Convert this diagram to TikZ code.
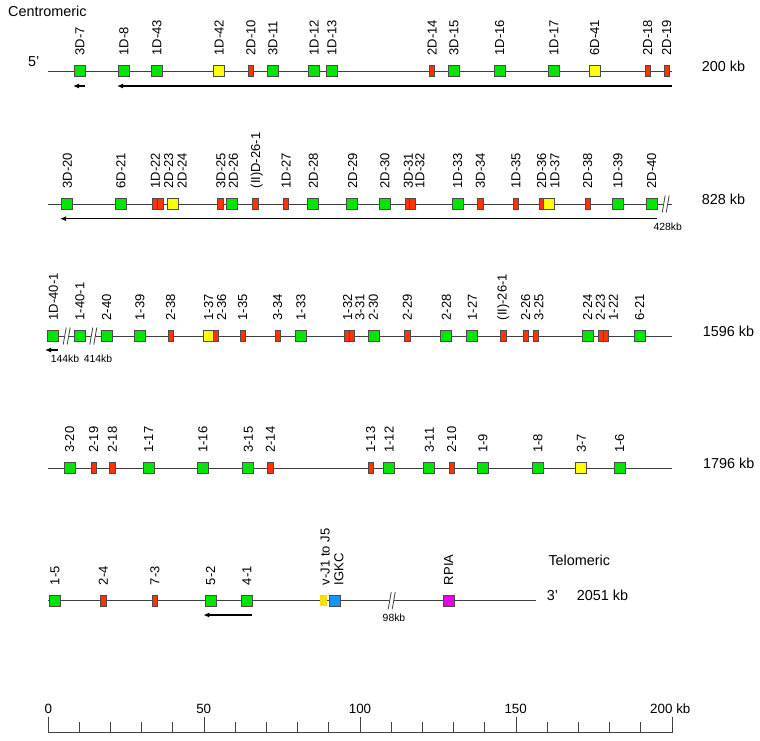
\documentclass[tikz,border=0pt]{standalone}
\usepackage{fontspec}
\setmainfont{Liberation Sans}
\usepackage{xcolor}
\usepackage{tikz}
\usetikzlibrary{arrows.meta}
\definecolor{GeneGreen}{RGB}{0,230,0}
\definecolor{GeneRed}{RGB}{255,51,0}
\definecolor{GeneYellow}{RGB}{255,255,0}
\definecolor{GeneGold}{RGB}{255,220,0}
\definecolor{GeneBlue}{RGB}{20,150,255}
\definecolor{GeneMagenta}{RGB}{230,0,230}

\begin{document}
\begin{tikzpicture}[x=1pt, y=-1pt,
        % Style for the gene boxes
        functional/.style={
            rectangle,
            draw=black!70,
            line width=0.8pt,
            fill=GeneGreen,
            minimum width=11pt,
            minimum height=11pt,
            inner sep=0pt
        },
        pseudo/.style={functional, fill=GeneRed, minimum width=5.5pt},
        orf/.style={functional, fill=GeneYellow},
        jseg/.style={functional, draw=none, fill=GeneGold, minimum width=7.5pt},
        constant/.style={functional, fill=GeneBlue},
        othergene/.style={functional, fill=GeneMagenta},
        % Style for the gene names (upright, reading upwards)
        genelabel/.style={
            rotate=90,
            anchor=west,
            inner sep=0pt,
            font=\fontsize{13}{13}\selectfont
        },
        % Style for the texts at the line ends
        sizelabel/.style={anchor=base west, inner sep=0pt, font=\fontsize{14.4}{16}\selectfont},
        smalllabel/.style={anchor=base, inner sep=0pt, font=\fontsize{10.4}{12}\selectfont},
        axislabel/.style={anchor=base, inner sep=0pt, font=\fontsize{13.4}{15}\selectfont},
        % Style for the lines
        chromline/.style={draw=black!75, line width=0.8pt},
        strand/.style={-{Latex[length=6pt,width=5pt]}, line width=1.3pt},
        axistick/.style={draw=black!75, line width=0.9pt}
    ]

        \useasboundingbox (0,0) rectangle (760,740);

        % --- 1. LINES OF THE LOCUS ---
        \coordinate (r1s) at (48,71);     \coordinate (r1e) at (671.7,71);
        \coordinate (r2s) at (48,204);    \coordinate (r2e) at (671.7,204);
        \coordinate (r3s) at (48,336);    \coordinate (r3e) at (671.7,336);
        \coordinate (r4s) at (48,468.3);  \coordinate (r4e) at (671.7,468.3);
        \coordinate (r5s) at (48,600.7);  \coordinate (r5e) at (536,600.7);
        \draw[chromline] (r1s) -- (r1e);
        \draw[chromline] (r2s) -- (r2e);
        \draw[chromline] (r3s) -- (r3e);
        \draw[chromline] (r4s) -- (r4e);
        \draw[chromline] (r5s) -- (r5e);

        % Breaks in the line
        \foreach \bx/\by in {665.7/204, 66.7/336, 93.3/336, 391.7/600.7} {
            \fill[white] (\bx-3.5,\by+8.5) -- (\bx-0.5,\by-8.5) -- (\bx+3.5,\by-8.5) -- (\bx+0.5,\by+8.5) -- cycle;
            \draw[black!75, line width=0.8pt] (\bx-3.5,\by+8.5) -- (\bx-0.5,\by-8.5);
            \draw[black!75, line width=0.8pt] (\bx+0.5,\by+8.5) -- (\bx+3.5,\by-8.5);
        }

        % --- 2. GENES (position / kind / label position / name) ---
        % Row 1
        \foreach \x/\t/\lx/\n [count=\i] in {
            80/functional/80/3D-7, 124/functional/124/1D-8, 157/functional/157/1D-43,
            219/orf/219/1D-42, 251/pseudo/251/2D-10, 273/functional/273/3D-11,
            314/functional/314/1D-12, 332/functional/332/1D-13, 432/pseudo/432/2D-14,
            454/functional/454/3D-15, 499.7/functional/499.7/1D-16, 554/functional/554/1D-17,
            594.7/orf/594.7/6D-41, 647.7/pseudo/647.7/2D-18, 666.7/pseudo/666.7/2D-19} {
            \node[\t] (r1g\i) at (\x,71) {};
            \node[genelabel] (r1l\i) at (\lx,55.5) {\n};
        }

        % Row 2
        \foreach \x/\t/\lx/\n [count=\i] in {
            67.3/functional/67.3/3D-20, 121/functional/121/6D-21,
            155.2/pseudo/155.3/1D-22, 160.2/pseudo/168.7/2D-23, 173/orf/182/2D-24,
            220.3/pseudo/221/3D-25, 232.3/functional/233.3/2D-26,
            255.3/pseudo/256.7/(II)D-26-1, 286/pseudo/286/1D-27,
            313.3/functional/313.3/2D-28, 352/functional/352.7/2D-29,
            385.3/functional/385/2D-30, 407.7/pseudo/408.3/3D-31, 412.3/pseudo/420/1D-32,
            457.7/functional/457.7/1D-33, 480.3/pseudo/480.3/3D-34, 516/pseudo/516/1D-35,
            541.7/pseudo/541.7/2D-36, 548.8/orf/555/1D-37, 587.7/pseudo/587.7/2D-38,
            618/functional/618/1D-39, 651.7/functional/651.7/2D-40} {
            \node[\t] (r2g\i) at (\x,204) {};
            \node[genelabel] (r2l\i) at (\lx,188.5) {\n};
        }

        % Row 3
        \foreach \x/\t/\lx/\n [count=\i] in {
            53.3/functional/53.3/1D-40-1, 80/functional/80/1-40-1,
            106.7/functional/106.7/2-40, 140/functional/140/1-39, 170.7/pseudo/170.7/2-38,
            208.7/orf/208.7/1-37, 215.8/pseudo/221.7/2-36, 242.7/pseudo/242.7/1-35,
            277.7/pseudo/277.7/3-34, 301/functional/301/1-33,
            347.3/pseudo/347.7/1-32, 352/pseudo/360/3-31, 374/functional/373.3/2-30,
            407.3/pseudo/407.3/2-29, 446.3/functional/446.3/2-28, 472.3/functional/472.3/1-27,
            503.3/pseudo/503.3/(II)-26-1, 525.7/pseudo/525.7/2-26, 535.7/pseudo/539/3-25,
            587.7/functional/587.7/2-24, 600.8/pseudo/600.3/2-23, 605.8/pseudo/613.3/1-22,
            639.7/functional/639.7/6-21} {
            \node[\t] (r3g\i) at (\x,336) {};
            \node[genelabel] (r3l\i) at (\lx,320.5) {\n};
        }

        % Row 4
        \foreach \x/\t/\lx/\n [count=\i] in {
            69.7/functional/69.7/3-20, 93.7/pseudo/93.7/2-19, 112.3/pseudo/112.3/2-18,
            148.7/functional/148.7/1-17, 203/functional/203/1-16, 248.3/functional/248.3/3-15,
            270.3/pseudo/270.3/2-14, 370.7/pseudo/370.7/1-13, 389/functional/389/1-12,
            429.3/functional/429.3/3-11, 451.7/pseudo/451.7/2-10, 483/functional/483/1-9,
            538/functional/538/1-8, 581.3/orf/581.3/3-7, 619.7/functional/619.7/1-6} {
            \node[\t] (r4g\i) at (\x,468.3) {};
            \node[genelabel] (r4l\i) at (\lx,452.8) {\n};
        }

        % Row 5
        \foreach \x/\t/\lx/\n [count=\i] in {
            55/functional/55/1-5, 103.3/pseudo/103.3/2-4, 155/pseudo/155/7-3,
            210.7/functional/210.7/5-2, 247/functional/247/4-1,
            323.7/jseg/325.3/v-J1 to J5, 335.3/constant/339/IGKC,
            448.7/othergene/448.7/RPIA} {
            \node[\t] (r5g\i) at (\x,600.7) {};
            \node[genelabel] (r5l\i) at (\lx,585.2) {\n};
        }

        % --- 3. TRANSCRIPTION ARROWS ---
        \coordinate (a1s) at (85,86);       \coordinate (a1e) at (73,86);
        \coordinate (a2s) at (671.7,86);    \coordinate (a2e) at (117,86);
        \coordinate (a3s) at (656.7,218.7); \coordinate (a3e) at (60,218.7);
        \coordinate (a4s) at (58,350);      \coordinate (a4e) at (45,350);
        \coordinate (a5s) at (251.7,615);   \coordinate (a5e) at (203.3,615);
        \draw[strand] (a1s) -- (a1e);
        \draw[strand] (a2s) -- (a2e);
        \draw[strand] (a3s) -- (a3e);
        \draw[strand] (a4s) -- (a4e);
        \draw[strand] (a5s) -- (a5e);

        % --- 4. TEXTS AT THE ENDS ---
        \node[sizelabel] (cen) at (8,16.5) {Centromeric};
        \node[sizelabel] (five) at (28,66.7) {5'};
        \node[sizelabel] (kb1) at (701.7,71.5) {200 kb};
        \node[sizelabel] (kb2) at (701.7,204.3) {828 kb};
        \node[sizelabel] (kb3) at (702.7,336) {1596 kb};
        \node[sizelabel] (kb4) at (703,468.3) {1796 kb};
        \node[sizelabel] (tel) at (548.3,565.5) {Telomeric};
        \node[sizelabel] (three) at (546.7,600.7) {3'};
        \node[sizelabel] (kb5) at (576.7,600.7) {2051 kb};

        % Gap sizes
        \node[smalllabel] (gap1) at (667.7,230) {428kb};
        \node[smalllabel] (gap2) at (65,362.7) {144kb};
        \node[smalllabel] (gap3) at (98,362.7) {414kb};
        \node[smalllabel] (gap4) at (394,621.7) {98kb};

        % --- 5. SCALE BAR ---
        \coordinate (ax0) at (48,732.7);
        \coordinate (ax1) at (672,732.7);
        \draw[axistick] (ax0) -- (ax1);
        \foreach \k in {10,20,30,40,60,70,80,90,110,120,130,140,160,170,180,190}
            \draw[axistick] (48+3.12*\k,722) -- (48+3.12*\k,732.7);
        \foreach \k in {0,50,100,150,200}
            \draw[axistick] (48+3.12*\k,716.7) -- (48+3.12*\k,732.7);
        \node[axislabel] (t0) at (48.3,713) {0};
        \node[axislabel] (t50) at (203.7,713) {50};
        \node[axislabel] (t100) at (360,713) {100};
        \node[axislabel] (t150) at (515.7,713) {150};
        \node[axislabel, anchor=base west] (t200) at (650,713) {200 kb};

    \end{tikzpicture}
\end{document}
